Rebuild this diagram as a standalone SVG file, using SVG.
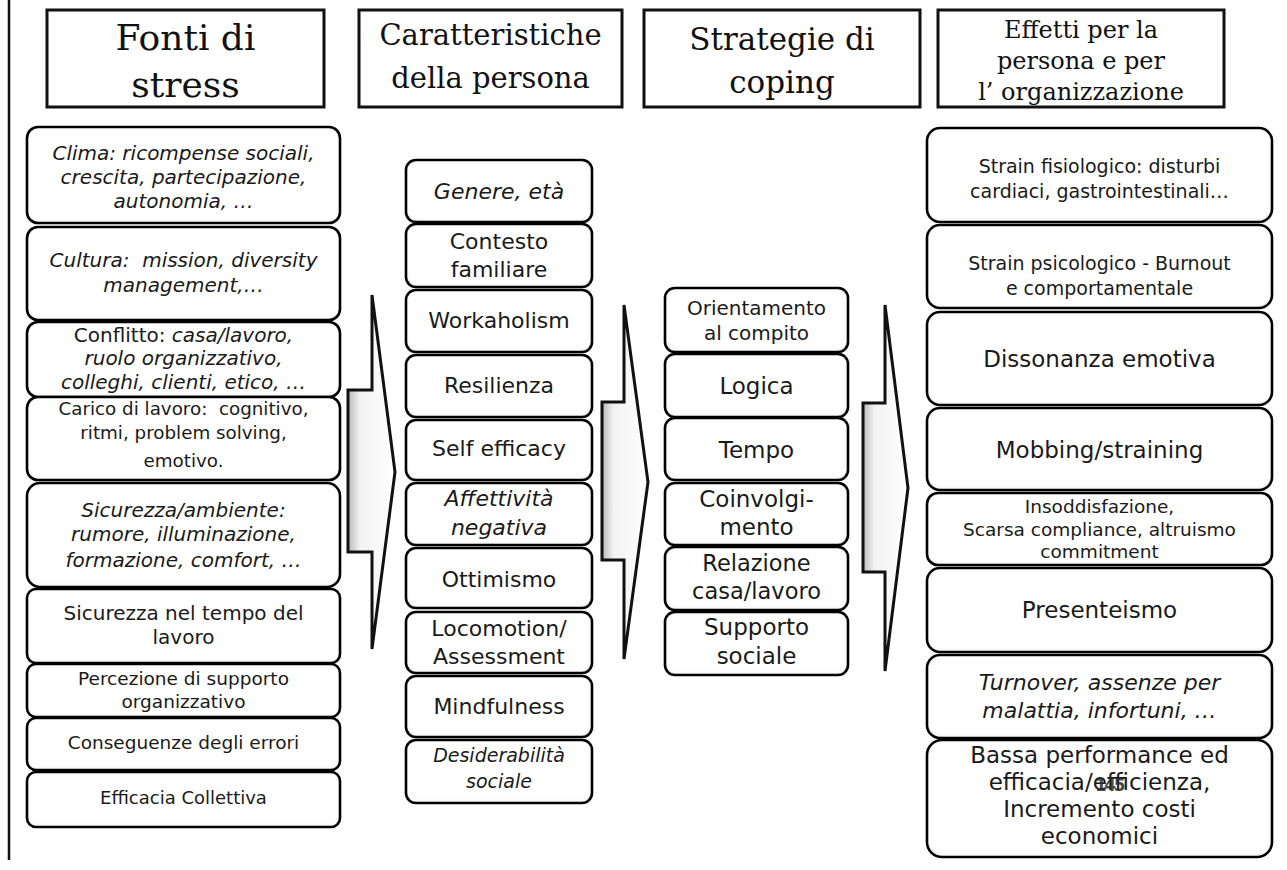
<svg xmlns="http://www.w3.org/2000/svg" width="1287" height="870" viewBox="0 0 1287 870">
  <defs>
    <style>
      .hdr{fill:#fff;stroke:#111;stroke-width:3}
      .ht{font-family:"DejaVu Serif",serif;fill:#111;text-anchor:middle}
      .box{fill:#fff;stroke:#111;stroke-width:2.6;filter:url(#rim)}
      .t{font-family:"DejaVu Sans",sans-serif;fill:#1a1a1a;text-anchor:middle}
      .i{font-style:italic}
      .arrow{fill:url(#shaft);stroke:#111;stroke-width:3;stroke-linejoin:miter}
      .frame{stroke:#111;stroke-width:2.5}
    </style>
    <!-- soft inner rim that gives the boxes their bevelled look -->
    <filter id="rim" x="-3%" y="-8%" width="106%" height="116%">
      <feGaussianBlur in="SourceAlpha" stdDeviation="2.5" result="b"/>
      <feOffset in="b" dy="-1.5" result="bo"/>
      <feComposite in="SourceAlpha" in2="bo" operator="arithmetic" k2="1" k3="-1" result="edge"/>
      <feFlood flood-color="#000" flood-opacity="0.4"/>
      <feComposite in2="edge" operator="in" result="shade"/>
      <feMerge><feMergeNode in="SourceGraphic"/><feMergeNode in="shade"/></feMerge>
    </filter>
    <linearGradient id="shaft" x1="0" y1="0" x2="1" y2="0">
      <stop offset="0" stop-color="#b8b8b8"/>
      <stop offset="0.25" stop-color="#f2f2f2"/>
      <stop offset="1" stop-color="#fff"/>
    </linearGradient>
  </defs>

  <rect width="1287" height="870" fill="#fff"/>
  <line class="frame" x1="9" y1="0" x2="9" y2="860"/>

  <!-- column headers -->
  <g id="hdr-fonti">
    <rect class="hdr" x="47" y="10" width="277" height="97"/>
    <text class="ht" x="185.5" y="50" font-size="36">Fonti di</text>
    <text class="ht" x="185.5" y="97" font-size="36">stress</text>
  </g>
  <g id="hdr-caratteristiche">
    <rect class="hdr" x="359" y="10" width="263" height="97"/>
    <text class="ht" x="490.5" y="45" font-size="29">Caratteristiche</text>
    <text class="ht" x="490.5" y="88" font-size="29">della persona</text>
  </g>
  <g id="hdr-coping">
    <rect class="hdr" x="644" y="10" width="276" height="97"/>
    <text class="ht" x="782" y="50" font-size="31">Strategie di</text>
    <text class="ht" x="782" y="93" font-size="31">coping</text>
  </g>
  <g id="hdr-effetti">
    <rect class="hdr" x="938" y="10" width="286" height="97"/>
    <text class="ht" x="1081" y="38" font-size="24">Effetti per la</text>
    <text class="ht" x="1081" y="69" font-size="24">persona e per</text>
    <text class="ht" x="1081" y="100" font-size="24">l’ organizzazione</text>
  </g>

  <!-- big block arrows between the columns -->
  <g id="connectors">
    <polygon class="arrow" points="348,390 372,390 372,295 395,472 372,649 372,552 348,552"/>
    <polygon class="arrow" points="602,402 624,402 624,305 648,482 624,659 624,560 602,560"/>
    <polygon class="arrow" points="863,403 885,403 885,305 908,488 885,671 885,572 863,572"/>
  </g>

  <!-- sources of stress -->
  <g id="fonti-clima">
    <rect class="box" x="27" y="127" width="313" height="96" rx="11"/>
    <text class="t i" font-size="20" x="183.5" y="160">Clima: ricompense sociali,</text>
    <text class="t i" font-size="20" x="183.5" y="184">crescita, partecipazione,</text>
    <text class="t i" font-size="20" x="183.5" y="208">autonomia, …</text>
  </g>
  <g id="fonti-cultura">
    <rect class="box" x="27" y="227" width="313" height="93" rx="11"/>
    <text class="t i" font-size="20" x="183.5" y="267" xml:space="preserve">Cultura:  mission, diversity</text>
    <text class="t i" font-size="20" x="183.5" y="292">management,…</text>
  </g>
  <g id="fonti-conflitto">
    <rect class="box" x="27" y="322" width="313" height="75" rx="11"/>
    <text class="t" font-size="20" x="183.5" y="342">Conflitto: <tspan class="i">casa/lavoro,</tspan></text>
    <text class="t i" font-size="20" x="183.5" y="365">ruolo organizzativo,</text>
    <text class="t i" font-size="20" x="183.5" y="389">colleghi, clienti, etico, …</text>
  </g>
  <g id="fonti-carico">
    <rect class="box" x="27" y="397" width="313" height="83" rx="11"/>
    <text class="t" font-size="18.3" x="183.5" y="415" xml:space="preserve">Carico di lavoro:  cognitivo,</text>
    <text class="t" font-size="18.3" x="183.5" y="439">ritmi, problem solving,</text>
    <text class="t" font-size="18.3" x="183.5" y="467">emotivo.</text>
  </g>
  <g id="fonti-sicurezza-ambiente">
    <rect class="box" x="27" y="483" width="313" height="104" rx="13"/>
    <text class="t i" font-size="20" x="183.5" y="517">Sicurezza/ambiente:</text>
    <text class="t i" font-size="20" x="183.5" y="541">rumore, illuminazione,</text>
    <text class="t i" font-size="20" x="183.5" y="567">formazione, comfort, …</text>
  </g>
  <g id="fonti-sicurezza-tempo">
    <rect class="box" x="27" y="589" width="313" height="74" rx="9"/>
    <text class="t" font-size="20" x="183.5" y="620">Sicurezza nel tempo del</text>
    <text class="t" font-size="20" x="183.5" y="644">lavoro</text>
  </g>
  <g id="fonti-supporto">
    <rect class="box" x="27" y="664" width="313" height="53" rx="9"/>
    <text class="t" font-size="18.5" x="183.5" y="685">Percezione di supporto</text>
    <text class="t" font-size="18.5" x="183.5" y="708">organizzativo</text>
  </g>
  <g id="fonti-errori">
    <rect class="box" x="27" y="718" width="313" height="52" rx="9"/>
    <text class="t" font-size="18.5" x="183.5" y="749">Conseguenze degli errori</text>
  </g>
  <g id="fonti-efficacia">
    <rect class="box" x="27" y="772" width="313" height="55" rx="9"/>
    <text class="t" font-size="18" x="183.5" y="804">Efficacia Collettiva</text>
  </g>

  <!-- personal characteristics -->
  <g id="pers-genere">
    <rect class="box" x="406" y="160" width="186" height="62" rx="10"/>
    <text class="t i" font-size="22" x="499" y="199">Genere, età</text>
  </g>
  <g id="pers-contesto">
    <rect class="box" x="406" y="224" width="186" height="63" rx="10"/>
    <text class="t" font-size="22" x="499" y="249">Contesto</text>
    <text class="t" font-size="22" x="499" y="277">familiare</text>
  </g>
  <g id="pers-workaholism">
    <rect class="box" x="406" y="290" width="186" height="62" rx="10"/>
    <text class="t" font-size="22" x="499" y="328">Workaholism</text>
  </g>
  <g id="pers-resilienza">
    <rect class="box" x="406" y="355" width="186" height="62" rx="10"/>
    <text class="t" font-size="22" x="499" y="393">Resilienza</text>
  </g>
  <g id="pers-selfefficacy">
    <rect class="box" x="406" y="420" width="186" height="60" rx="10"/>
    <text class="t" font-size="22" x="499" y="456">Self efficacy</text>
  </g>
  <g id="pers-affettivita">
    <rect class="box" x="406" y="483" width="186" height="62" rx="10"/>
    <text class="t i" font-size="22" x="499" y="506">Affettività</text>
    <text class="t i" font-size="22" x="499" y="535">negativa</text>
  </g>
  <g id="pers-ottimismo">
    <rect class="box" x="406" y="548" width="186" height="60" rx="10"/>
    <text class="t" font-size="22" x="499" y="587">Ottimismo</text>
  </g>
  <g id="pers-locomotion">
    <rect class="box" x="406" y="612" width="186" height="61" rx="10"/>
    <text class="t" font-size="22" x="499" y="636">Locomotion/</text>
    <text class="t" font-size="22" x="499" y="664">Assessment</text>
  </g>
  <g id="pers-mindfulness">
    <rect class="box" x="406" y="676" width="186" height="61" rx="10"/>
    <text class="t" font-size="22" x="499" y="714">Mindfulness</text>
  </g>
  <g id="pers-desiderabilita">
    <rect class="box" x="406" y="740" width="186" height="63" rx="10"/>
    <text class="t i" font-size="19" x="499" y="762">Desiderabilità</text>
    <text class="t i" font-size="19" x="499" y="788">sociale</text>
  </g>

  <!-- coping strategies -->
  <g id="cop-orientamento">
    <rect class="box" x="665" y="288" width="183" height="64" rx="10"/>
    <text class="t" font-size="20" x="756.5" y="315">Orientamento</text>
    <text class="t" font-size="20" x="756.5" y="340">al compito</text>
  </g>
  <g id="cop-logica">
    <rect class="box" x="665" y="354" width="183" height="63" rx="10"/>
    <text class="t" font-size="23" x="756.5" y="394">Logica</text>
  </g>
  <g id="cop-tempo">
    <rect class="box" x="665" y="418" width="183" height="62" rx="10"/>
    <text class="t" font-size="23" x="756.5" y="458">Tempo</text>
  </g>
  <g id="cop-coinvolgimento">
    <rect class="box" x="665" y="483" width="183" height="62" rx="10"/>
    <text class="t" font-size="23" x="756.5" y="507">Coinvolgi-</text>
    <text class="t" font-size="23" x="756.5" y="535">mento</text>
  </g>
  <g id="cop-relazione">
    <rect class="box" x="665" y="547" width="183" height="63" rx="10"/>
    <text class="t" font-size="22.5" x="756.5" y="571">Relazione</text>
    <text class="t" font-size="22.5" x="756.5" y="599">casa/lavoro</text>
  </g>
  <g id="cop-supporto">
    <rect class="box" x="665" y="612" width="183" height="63" rx="10"/>
    <text class="t" font-size="23" x="756.5" y="635">Supporto</text>
    <text class="t" font-size="23" x="756.5" y="664">sociale</text>
  </g>

  <!-- effects on the person and the organisation -->
  <g id="eff-fisiologico">
    <rect class="box" x="927" y="128" width="345" height="94" rx="13"/>
    <text class="t" font-size="19" x="1099.5" y="173">Strain fisiologico: disturbi</text>
    <text class="t" font-size="19" x="1099.5" y="198">cardiaci, gastrointestinali…</text>
  </g>
  <g id="eff-psicologico">
    <rect class="box" x="927" y="225" width="345" height="83" rx="13"/>
    <text class="t" font-size="19" x="1099.5" y="270">Strain psicologico - Burnout</text>
    <text class="t" font-size="19" x="1099.5" y="295">e comportamentale</text>
  </g>
  <g id="eff-dissonanza">
    <rect class="box" x="927" y="312" width="345" height="93" rx="13"/>
    <text class="t" font-size="23" x="1099.5" y="367">Dissonanza emotiva</text>
  </g>
  <g id="eff-mobbing">
    <rect class="box" x="927" y="408" width="345" height="82" rx="13"/>
    <text class="t" font-size="23" x="1099.5" y="458">Mobbing/straining</text>
  </g>
  <g id="eff-insoddisfazione">
    <rect class="box" x="927" y="493" width="345" height="72" rx="11"/>
    <text class="t" font-size="18.5" x="1099.5" y="513">Insoddisfazione,</text>
    <text class="t" font-size="18.5" x="1099.5" y="536">Scarsa compliance, altruismo</text>
    <text class="t" font-size="18.5" x="1099.5" y="558">commitment</text>
  </g>
  <g id="eff-presenteismo">
    <rect class="box" x="927" y="568" width="345" height="84" rx="13"/>
    <text class="t" font-size="23" x="1099.5" y="618">Presenteismo</text>
  </g>
  <g id="eff-turnover">
    <rect class="box" x="927" y="655" width="345" height="83" rx="13"/>
    <text class="t i" font-size="22" x="1099.5" y="690">Turnover, assenze per</text>
    <text class="t i" font-size="22" x="1099.5" y="718">malattia, infortuni, …</text>
  </g>
  <g id="eff-performance">
    <rect class="box" x="927" y="740" width="345" height="117" rx="15"/>
    <text class="t" font-size="23" x="1099.5" y="763">Bassa performance ed</text>
    <text class="t" font-size="23" x="1099.5" y="790">efficacia/efficienza,</text>
    <text class="t" font-size="23" x="1099.5" y="817">Incremento costi</text>
    <text class="t" font-size="23" x="1099.5" y="844">economici</text>
  </g>

  <!-- page number printed over the last box -->
  <text x="1109" y="791" font-family="DejaVu Sans,sans-serif" font-size="17" font-weight="bold" fill="#2a2a2a" fill-opacity="0.85" text-anchor="middle" letter-spacing="-2.5">145</text>
</svg>
